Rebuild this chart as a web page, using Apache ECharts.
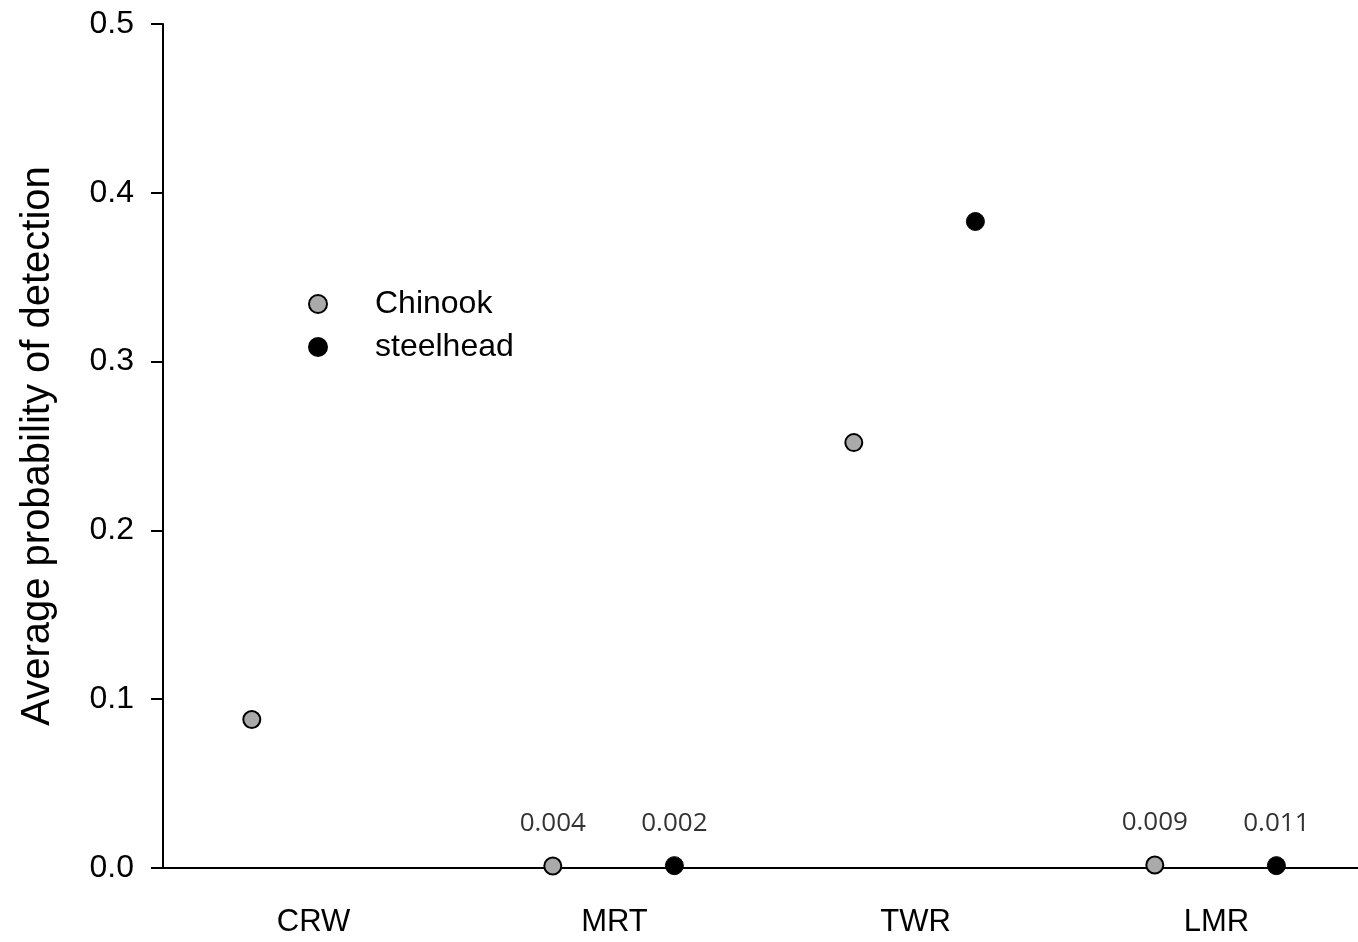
<!DOCTYPE html>
<html><head><meta charset="utf-8">
<script src="https://cdn.jsdelivr.net/npm/echarts@6/dist/echarts.min.js"></script>
<style>html,body{margin:0;padding:0;background:#fff;overflow:hidden;width:1358px;height:942px}#c{width:1367px;height:942px}</style>
</head><body><div id="c"></div>
<script>
const categories = ['CRW', 'MRT', 'TWR', 'LMR'];
// plotted positions
const chinook = [0.088, 0.0012, 0.252, 0.0018];
const steelhead = [null, 0.0014, 0.383, 0.0014];
// annotation text shown above the near-zero points
const chinookLabels = [null, '0.004', null, '0.009'];
const steelheadLabels = [null, '0.002', null, '0.011'];
const offsetChinook = -0.205, offsetSteelhead = 0.199;

function build(vals, labels, off) {
  const out = [];
  vals.forEach((v, i) => {
    if (v == null) return;
    out.push({ value: [i + off, v], label: { show: labels[i] != null, formatter: labels[i] || '' } });
  });
  return out;
}
const F = 'Liberation Sans, Arial, sans-serif';
const LF = 'Open Sans, DejaVu Sans, sans-serif';
const chart = echarts.init(document.getElementById('c'));
chart.setOption({
  animation: false,
  grid: { left: 163, top: 24, bottom: 74, right: 0, containLabel: false },
  legend: {
    orient: 'vertical', left: 303, top: 283, itemWidth: 18, itemHeight: 18, itemGap: 11,
    textStyle: { fontFamily: F, fontSize: 32, lineHeight: 32, color: '#000', padding: [0, 0, 0, 43] },
    data: ['Chinook', 'steelhead']
  },
  xAxis: [{
    type: 'category', data: categories, boundaryGap: true,
    axisLine: { onZero: false, lineStyle: { color: '#000', width: 2 } },
    axisTick: { alignWithLabel: true, length: 11, lineStyle: { color: '#000', width: 2 } },
    axisLabel: { fontFamily: F, fontSize: 31, color: '#000', margin: 39 },
    splitLine: { show: false }
  }, {
    type: 'value', min: -0.5, max: 3.5, show: false, splitLine: { show: false }
  }],
  yAxis: {
    type: 'value', min: 0, max: 0.5, interval: 0.1,
    name: 'Average probability of detection', nameLocation: 'middle', nameGap: 105, nameRotate: 90,
    nameTextStyle: { fontFamily: F, fontSize: 40, color: '#000' },
    axisLine: { show: true, onZero: false, lineStyle: { color: '#000', width: 2 } },
    axisTick: { show: true, length: 12, lineStyle: { color: '#000', width: 2 } },
    axisLabel: { fontFamily: F, fontSize: 32, color: '#000', margin: 29, formatter: v => v.toFixed(1) },
    splitLine: { show: false }
  },
  series: [{
    name: 'Chinook', type: 'scatter', xAxisIndex: 1, symbol: 'circle', symbolSize: 17,
    itemStyle: { color: '#aaaaaa', borderColor: '#000', borderWidth: 2, opacity: 1 },
    label: { position: 'top', distance: 20, fontFamily: LF, fontSize: 26, color: '#333' },
    data: build(chinook, chinookLabels, offsetChinook)
  }, {
    name: 'steelhead', type: 'scatter', xAxisIndex: 1, symbol: 'circle', symbolSize: 18,
    itemStyle: { color: '#000', borderColor: '#000', borderWidth: 1, opacity: 1 },
    label: { position: 'top', distance: 20, fontFamily: LF, fontSize: 26, color: '#333' },
    data: build(steelhead, steelheadLabels, offsetSteelhead)
  }]
});
</script></body></html>
